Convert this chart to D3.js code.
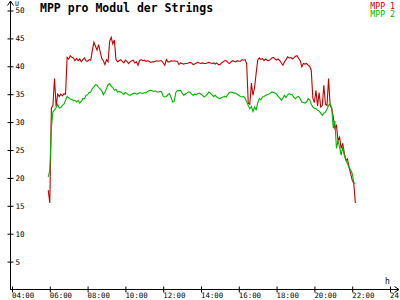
<!DOCTYPE html>
<html>
<head>
<meta charset="utf-8">
<script src="https://cdn.jsdelivr.net/npm/d3@7"></script>
<style>
  body { margin: 0; background: #fff; }
  svg { display: block; }
</style>
</head>
<body>
<div id="chart"></div>
<script>
// ticks
const yTicks = [5, 10, 15, 20, 25, 30, 35, 40, 45, 50];
const xTickLabels = ["04:00", "06:00", "08:00", "10:00", "12:00", "14:00", "16:00", "18:00", "20:00", "22:00", "24:00"];
const seriesNames = ["MPP 1", "MPP 2"];

// samples every 5 min starting 05:55
const startTime = "05:55";
const stepMin = 5;

const mpp1 = [
  17.8, 15.5, 32.5, 33.0, 37.8, 32.8, 35.0, 34.6, 35.0, 34.7,
  35.1, 35.0, 41.6, 41.3, 41.9, 41.6, 41.5, 41.0, 41.4, 41.0,
  41.3, 40.8, 41.2, 41.5, 41.0, 40.9, 41.2, 41.1, 42.8, 44.3,
  43.6, 42.9, 43.9, 42.6, 41.4, 41.0, 40.3, 41.2, 40.8, 44.5,
  45.2, 44.0, 44.7, 41.2, 40.8, 41.0, 41.2, 40.9, 40.6, 41.1,
  40.9, 40.5, 40.8, 41.0, 41.1, 40.6, 40.8, 40.2, 41.0, 41.2,
  41.0, 41.1, 40.9, 41.0, 40.9, 40.7, 40.8, 40.8, 40.9, 41.0,
  40.9, 41.0, 41.0, 40.6, 40.2, 41.2, 40.8, 40.8, 41.0, 40.9,
  41.0, 40.9, 40.9, 40.3, 40.6, 40.5, 40.4, 40.5, 40.5, 40.6,
  40.7, 40.6, 40.3, 40.4, 40.6, 40.7, 40.6, 40.5, 40.6, 40.5,
  40.5, 40.6, 40.7, 40.6, 40.5, 40.6, 40.4, 40.6, 40.3, 40.3,
  40.6, 40.8, 41.0, 41.0, 40.7, 40.5, 40.8, 41.0, 40.9, 40.8,
  41.0, 40.9, 40.9, 41.2, 41.1, 41.2, 40.5, 33.4, 33.2, 37.0,
  34.8, 36.2, 38.7, 41.1, 41.5, 41.2, 41.4, 41.0, 41.3, 41.1,
  41.0, 41.2, 41.5, 41.6, 41.3, 41.1, 41.3, 41.0, 40.6, 40.2,
  40.8, 41.2, 41.7, 41.5, 41.6, 41.3, 41.5, 41.8, 41.9, 41.4,
  41.0, 39.9, 40.5, 40.4, 40.5, 40.2, 40.0, 39.3, 34.3, 33.5,
  35.7, 32.9, 35.3, 32.7, 33.0, 36.6, 33.2, 33.0, 37.8, 33.0,
  32.5, 30.9, 28.9, 29.4, 26.7, 27.3, 25.3, 26.2, 24.4, 23.2,
  23.4, 21.9, 20.8, 19.6, 19.0, 15.5
];

const mpp2 = [
  20.2, 21.3, 29.0, 31.8, 32.2, 32.6, 33.2, 32.5, 32.6, 33.0,
  33.2, 33.9, 34.6, 34.4, 34.1, 34.1, 33.8, 33.9, 33.6, 33.9,
  33.4, 33.7, 34.2, 34.2, 34.8, 34.9, 35.3, 35.4, 36.0, 36.3,
  36.7, 36.6, 36.2, 35.9, 35.6, 34.9, 35.4, 36.0, 36.7, 36.9,
  36.4, 36.2, 35.7, 35.9, 35.4, 35.5, 35.4, 35.2, 35.0, 35.3,
  35.1, 34.9, 34.8, 35.0, 35.1, 35.2, 35.0, 35.1, 35.3, 35.2,
  35.1, 35.3, 35.2, 35.5, 35.6, 35.7, 35.6, 35.5, 35.6, 35.4,
  35.4, 35.5, 35.4, 34.6, 34.5, 34.6, 34.9, 35.1, 34.4, 33.6,
  33.7, 35.3, 35.7, 35.6, 35.7, 35.2, 34.8, 35.0, 35.2, 35.4,
  35.4, 35.0, 34.8, 35.0, 34.9, 35.1, 35.2, 35.0, 34.8, 34.5,
  34.7, 35.0, 35.4, 35.2, 34.9, 34.6, 34.8, 34.5, 34.3, 34.2,
  34.4, 34.5, 34.6, 34.5, 34.9, 35.3, 35.4, 35.3, 35.2, 35.2,
  35.0, 34.8, 34.6, 34.5, 34.6, 34.3, 33.6, 33.0, 32.4, 32.8,
  31.9, 32.7, 32.2, 33.4, 34.2, 34.0, 34.5, 34.6, 34.8, 34.9,
  35.0, 35.2, 35.4, 35.3, 35.2, 35.0, 34.6, 34.3, 33.9, 34.3,
  34.8, 34.4, 34.9, 35.1, 34.9, 34.9, 34.4, 34.2, 34.5, 34.6,
  34.2, 33.6, 33.5, 33.4, 33.6, 34.2, 34.0, 33.2, 32.7, 32.5,
  32.4, 32.1, 32.0, 31.6, 31.2, 31.6, 31.8, 32.3, 33.0, 33.3,
  32.5, 28.9, 30.2, 25.3, 26.7, 25.5, 24.1, 25.5, 24.0, 23.2,
  22.5, 21.9, 21.4, 20.8, 19.2, 19.0
];

const colors = ["#c40000", "#00b400"];

const width = 400, height = 300;
const toHours = (s) => { const [h, m] = s.split(":").map(Number); return h + m / 60; };
const t0 = toHours(startTime);

const x = d3.scaleLinear().domain([4, 24]).range([12, 390]);
const y = d3.scaleLinear().domain([0, 50]).range([289.5, 10.5]);

const svg = d3.select("#chart").append("svg")
  .attr("width", width).attr("height", height);

const mono = "'DejaVu Sans Mono', 'Liberation Mono', monospace";

// lines
[mpp1, mpp2].forEach((vals, k) => {
  const line = d3.line()
    .x((d, i) => x(t0 + i * stepMin / 60))
    .y(d => y(d));
  svg.append("path")
    .datum(vals)
    .attr("fill", "none")
    .attr("stroke", colors[k])
    .attr("stroke-width", 1.1)
    .attr("d", line);
});

// y axis
svg.append("g")
  .attr("transform", "translate(10.5,0)")
  .call(d3.axisRight(y).tickValues(yTicks).tickSize(3).tickPadding(2))
  .call(g => g.select(".domain").remove())
  .call(g => g.selectAll(".tick line").attr("x1", -3).attr("stroke", "#000"))
  .call(g => g.selectAll(".tick text")
    .attr("font-family", mono).attr("font-size", "7.6px").attr("fill", "#000"));

svg.append("line")
  .attr("x1", 10.5).attr("x2", 10.5).attr("y1", 290).attr("y2", 1)
  .attr("stroke", "#000");
svg.append("path")
  .attr("d", "M7.5,5.5 L10.5,1 L13.5,5.5")
  .attr("fill", "none").attr("stroke", "#000");

// x axis
const xAxis = d3.axisBottom(x)
  .tickValues(d3.range(4, 25, 2))
  .tickFormat((d, i) => xTickLabels[i])
  .tickSize(3).tickPadding(0);

svg.append("g")
  .attr("transform", "translate(0,289.5)")
  .call(xAxis)
  .call(g => g.select(".domain").remove())
  .call(g => g.selectAll(".tick line").attr("y1", -3).attr("stroke", "#000"))
  .call(g => g.selectAll(".tick text")
    .attr("text-anchor", "start").attr("dx", -0.5)
    .attr("font-family", mono).attr("font-size", "7.4px").attr("fill", "#000"));

svg.append("line")
  .attr("x1", 10).attr("x2", 399).attr("y1", 289.5).attr("y2", 289.5)
  .attr("stroke", "#000");
svg.append("path")
  .attr("d", "M394.5,286.5 L399,289.5 L394.5,292.5")
  .attr("fill", "none").attr("stroke", "#000");

// unit labels
svg.append("text").attr("x", 15).attr("y", 5.5)
  .attr("font-family", mono).attr("font-size", "6.5px").text("U");
svg.append("text").attr("x", 385).attr("y", 284)
  .attr("font-family", mono).attr("font-size", "8px").text("h");

// title
svg.append("text").attr("x", 40).attr("y", 11.5)
  .attr("font-family", mono).attr("font-size", "11.5px").attr("font-weight", "bold")
  .text("MPP pro Modul der Strings");

// legend
seriesNames.forEach((name, k) => {
  svg.append("text").attr("x", 395).attr("y", 8.5 + k * 8.5)
    .attr("text-anchor", "end")
    .attr("font-family", mono).attr("font-size", "8.2px")
    .attr("fill", colors[k]).text(name);
});
</script>
</body>
</html>
